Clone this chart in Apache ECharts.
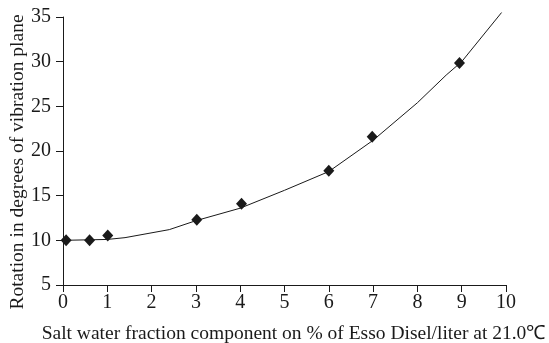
<!DOCTYPE html>
<html>
<head>
<meta charset="utf-8">
<script src="https://cdn.jsdelivr.net/npm/echarts@6/dist/echarts.min.js"></script>
<style>
	html, body { margin: 0; padding: 0; background: #fff; }
	#chart { width: 549px; height: 343px; }
</style>
</head>
<body>
<div id="chart"></div>
<script>
	// measured points (diamonds)
	var pointX = [0.07, 0.6, 1.01, 3.02, 4.03, 6.0, 6.98, 8.95];
	var pointY = [10.0, 10.0, 10.55, 12.3, 14.1, 17.8, 21.6, 29.85];
	// fitted trend line
	var lineX = [0, 1.0, 1.4, 2.4, 3.0, 4.0, 5.0, 6.0, 7.0, 8.0, 8.65, 9.0, 9.9];
	var lineY = [10.0, 10.1, 10.3, 11.2, 12.2, 13.6, 15.6, 17.7, 21.2, 25.4, 28.5, 30.0, 35.5];

	var xTitle = 'Salt water fraction component on % of Esso Disel/liter at 21.0℃';
	var yTitle = 'Rotation in degrees of vibration plane';

	var font = 'Liberation Serif';
	var ink = '#1a1a1a';

	var points = pointX.map(function (x, i) { return [x, pointY[i]]; });
	var line = lineX.map(function (x, i) { return [x, lineY[i]]; });

	var option = {
		backgroundColor: '#fff',
		animation: false,
		grid: {
			left: 63,
			right: 43,
			top: 17,
			bottom: 58,
			containLabel: false,
			outerBoundsMode: 'none'
		},
		xAxis: {
			type: 'value',
			min: 0,
			max: 10,
			interval: 1,
			name: xTitle,
			nameLocation: 'middle',
			nameGap: 39,
			nameMoveOverlap: false,
			nameTextStyle: { color: ink, fontFamily: font, fontSize: 19.5, padding: [0, 0, 0, 18] },
			axisLine: { show: true, lineStyle: { color: ink, width: 1 } },
			axisTick: { show: true, inside: false, length: 7, lineStyle: { color: ink } },
			axisLabel: { color: ink, fontFamily: font, fontSize: 20, margin: 8 },
			splitLine: { show: false }
		},
		yAxis: {
			type: 'value',
			min: 5,
			max: 35,
			interval: 5,
			name: yTitle,
			nameLocation: 'middle',
			nameGap: 35,
			nameMoveOverlap: false,
			nameTextStyle: { color: ink, fontFamily: font, fontSize: 19.5, padding: [0, 22, 0, 0] },
			axisLine: { show: true, lineStyle: { color: ink, width: 1 } },
			axisTick: { show: true, inside: false, length: 7, lineStyle: { color: ink } },
			axisLabel: { color: ink, fontFamily: font, fontSize: 20, margin: 12 },
			splitLine: { show: false }
		},
		series: [{
			type: 'line',
			data: line,
			clip: false,
			showSymbol: false,
			symbol: 'none',
			lineStyle: { color: ink, width: 1 },
			z: 2
		}, {
			type: 'scatter',
			data: points,
			symbol: 'diamond',
			symbolSize: [11, 12],
			itemStyle: { color: ink, opacity: 1 },
			z: 3
		}]
	};

	var myChart = echarts.init(document.getElementById('chart'));
	myChart.setOption(option);
</script>
</body>
</html>
